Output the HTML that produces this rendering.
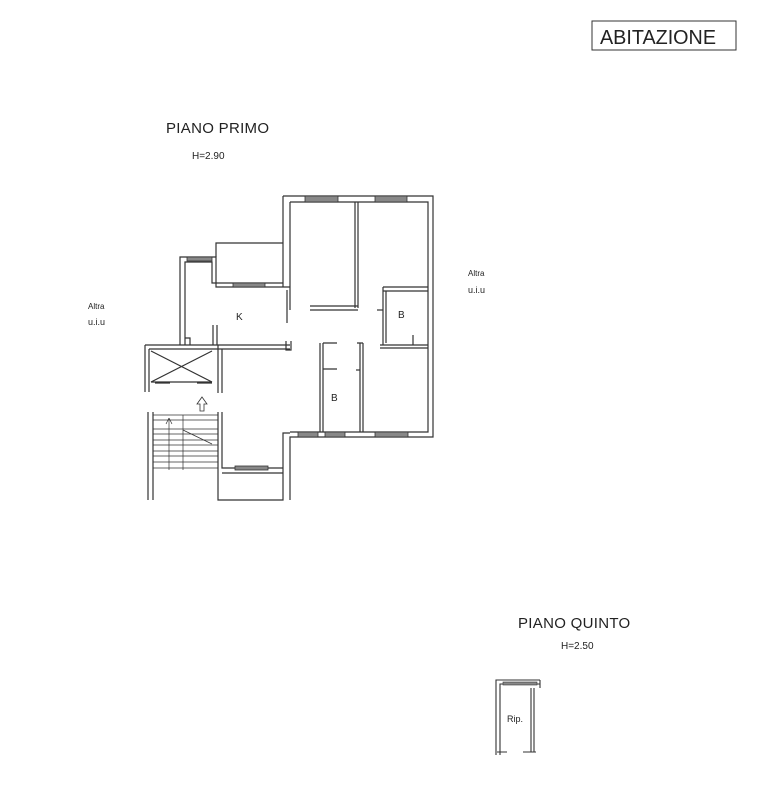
<!DOCTYPE html>
<html><head><meta charset="utf-8"><style>
html,body{margin:0;padding:0;background:#fff;}
svg{display:block;}
text{font-family:"Liberation Sans",sans-serif;fill:#222;}
</style></head><body>
<svg width="778" height="797" viewBox="0 0 778 797" xmlns="http://www.w3.org/2000/svg">
<rect width="778" height="797" fill="#fff"/>
<rect x="592" y="21" width="144" height="29" fill="none" stroke="#333" stroke-width="1"/>
<text x="600" y="44" font-size="20" textLength="116" lengthAdjust="spacingAndGlyphs">ABITAZIONE</text>
<text x="166" y="133" font-size="15" letter-spacing="0.3">PIANO PRIMO</text>
<text x="192" y="159" font-size="10">H=2.90</text>
<text x="88" y="309" font-size="8">Altra</text>
<text x="88" y="325" font-size="9">u.i.u</text>
<text x="468" y="276" font-size="8">Altra</text>
<text x="468" y="293" font-size="9">u.i.u</text>
<text x="518" y="628" font-size="15" letter-spacing="0.3">PIANO QUINTO</text>
<text x="561" y="649" font-size="10">H=2.50</text>

<g fill="none" stroke="#333" stroke-width="1.2">
<path d="M283 196 H433 V437 H290 V500"/>
<path d="M290 202 H428 V432 H290"/>
<path d="M283 196 V287"/>
<path d="M290 202 V310"/>
<rect x="305" y="196" width="33" height="6" fill="#888" stroke-width="0.8"/>
<rect x="375" y="196" width="32" height="6" fill="#888" stroke-width="0.8"/>
<path d="M216 257 V243 H283"/>
<path d="M180 345 V257 H216 V287 H290"/>
<path d="M185 345 V262 H212 V283 H283"/>
<rect x="187" y="257" width="25" height="4" fill="#888" stroke-width="0.8"/>
<rect x="233" y="283" width="32" height="4" fill="#888" stroke-width="0.8"/>
<path d="M185 338 H190 V345"/>
<path d="M287 290 V323"/>
<path d="M286 341 V350 H291 V341"/>
<path d="M213 325 V345 M217 325 V345"/>
<path d="M145 345 H290 M218 349 H290"/>
<path d="M355 202 V308 M358 202 V308"/>
<path d="M310 306 H358 M310 310 H358"/>
<path d="M383 287 H428 M383 291 H428"/>
<path d="M383 287 V345 M386 291 V343"/>
<path d="M377 310 H383"/>
<path d="M380 345 H428 M380 348 H428"/>
<path d="M413 335 V345"/>
<path d="M320 343 V432 M323 343 V432"/>
<path d="M323 343 H337 M323 369 H337"/>
<path d="M357 343 H363 M360 343 V432 M363 343 V432"/>
<path d="M356 370 H360"/>
<rect x="298" y="432" width="20" height="5" fill="#888" stroke-width="0.8"/>
<rect x="325" y="432" width="20" height="5" fill="#888" stroke-width="0.8"/>
<rect x="375" y="432" width="33" height="5" fill="#888" stroke-width="0.8"/>
<path d="M218 345 V393 M222 349 V393"/>
<path d="M218 412 V500 H283 V433 H290 M222 412 V468 H283"/>
<rect x="235" y="466" width="33" height="4" fill="#888" stroke-width="0.8"/>
<path d="M222 473 H283"/>
<path d="M145 345 V392 M149 349 V392"/>
<path d="M149 349 H218"/>
<path d="M151 351 L212 382 M212 351 L151 382"/>
<path d="M151 382 H212"/>
<path d="M155 383 H170 M197 383 H212"/>
<path d="M202 397 L207 404 L204 404 L204 411 L200 411 L200 404 L197 404 Z" stroke-width="0.8"/>
<path d="M148 412 V500 M153 412 V500"/>
<path d="M153 415 H218 M153 420 H218 M153 429 H218 M153 434 H218 M153 440 H218 M153 445 H218 M153 451 H218 M153 456 H218 M153 462 H218 M153 468 H218" stroke-width="0.7"/>
<path d="M169 418 V470 M183 415 V470" stroke-width="0.7"/>
<path d="M183 430 L212 444" stroke-width="0.7"/>
<path d="M169 418 L166 424 M169 418 L172 424" stroke-width="0.7"/>
</g>
<text x="236" y="320" font-size="10">K</text>
<text x="398" y="318" font-size="10">B</text>
<text x="331" y="401" font-size="10">B</text>

<g fill="none" stroke="#333" stroke-width="1.1">
<path d="M496 755 V680 H540 M500 755 V684 H540"/>
<rect x="503" y="682" width="34" height="3" fill="#888" stroke-width="0.6"/>
<path d="M540 680 V688"/>
<path d="M531 688 V752 M534 688 V752"/>
<path d="M497 752 H507 M523 752 H536"/>
</g>
<text x="507" y="722" font-size="9">Rip.</text>
</svg>
</body></html>
